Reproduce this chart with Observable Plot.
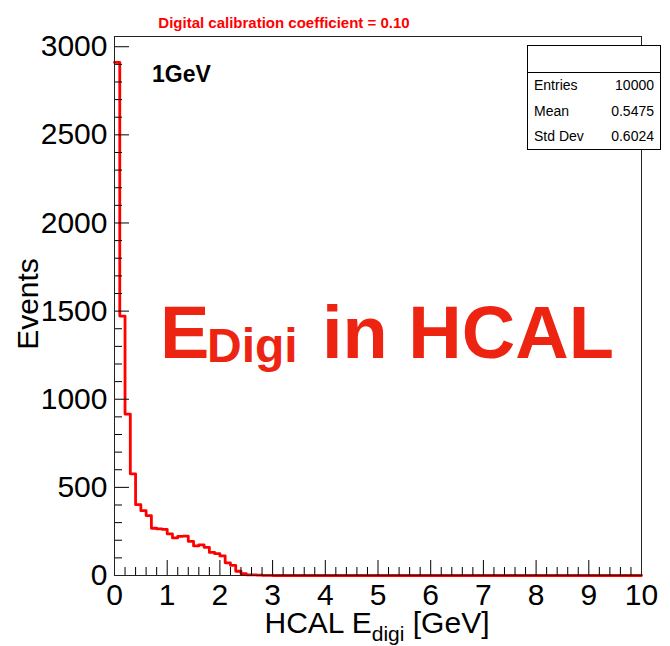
<!DOCTYPE html>
<html><head><meta charset="utf-8">
<script src="https://cdn.jsdelivr.net/npm/d3@7"></script>
<script src="https://cdn.jsdelivr.net/npm/@observablehq/plot@0.6"></script>
<style>body{margin:0;background:#fff}</style>
</head><body><div id="chart"></div>
<script>
// ---- data ----
const xMajorTicks = [0, 1, 2, 3, 4, 5, 6, 7, 8, 9, 10];
const yMajorTicks = [0, 500, 1000, 1500, 2000, 2500, 3000];
const binWidth = 0.1;           // GeV per bin, 100 bins over [0,10]
const counts = [
  2911, 1472, 916, 577, 402, 368, 340, 268, 264, 262,
  236, 213, 222, 223, 194, 168, 174, 160, 131, 124,
  111, 72, 58, 24, 11, 4, 3, 2, 1, 1,
  0, 0, 0, 0, 0, 0, 0, 0, 0, 0,
  0, 0, 0, 0, 0, 0, 0, 0, 0, 0,
  0, 0, 0, 0, 0, 0, 0, 0, 0, 0,
  0, 0, 0, 0, 0, 0, 0, 0, 0, 0,
  0, 0, 0, 0, 0, 0, 0, 0, 0, 0,
  0, 0, 0, 0, 0, 0, 0, 0, 0, 0,
  0, 0, 0, 0, 0, 0, 0, 0, 0, 0
];
const statsNames = ["Entries", "Mean", "Std Dev"];
const statsValues = ["10000", "0.5475", "0.6024"];
const titleText = "Digital calibration coefficient = 0.10";
const energyLabel = "1GeV";
const yMax = 3058;

// ---- derived ----
const pts = counts.map((c, i) => ({x: i * binWidth, y: c}));
pts.push({x: counts.length * binWidth, y: counts[counts.length - 1]});
const xMinor = d3.range(0, 51).map(i => i * 0.2).filter((v, i) => i % 5 !== 0);
const yMinor = d3.range(0, 31).map(i => i * 100).filter(v => v % 500 !== 0);

const W = 670, H = 646, mL = 114, mR = 29, mT = 36, mB = 71;
const font = "'Liberation Sans', Arial, Helvetica, sans-serif";

const plot = Plot.plot({
  width: W, height: H,
  marginLeft: mL, marginRight: mR, marginTop: mT, marginBottom: mB,
  style: {fontFamily: font, background: "#fff", color: "#000", overflow: "visible"},
  x: {domain: [0, 10]},
  y: {domain: [0, yMax]},
  marks: [
    Plot.lineY(pts, {x: "x", y: "y", curve: "step-after", stroke: "#ff0000", strokeWidth: 2.8}),
    Plot.ruleX(xMajorTicks, {x: d => d, y1: 0, y2: 0, insetTop: -15, stroke: "#000", strokeWidth: 1}),
    Plot.ruleX(xMinor, {x: d => d, y1: 0, y2: 0, insetTop: -8, stroke: "#000", strokeWidth: 1}),
    Plot.ruleY(yMajorTicks, {y: d => d, x1: 0, x2: 0, insetRight: -15, stroke: "#000", strokeWidth: 1}),
    Plot.ruleY(yMinor, {y: d => d, x1: 0, x2: 0, insetRight: -8, stroke: "#000", strokeWidth: 1}),
    Plot.frame({stroke: "#222", strokeWidth: 1}),
    Plot.axisX({ticks: xMajorTicks, tickSize: 0, tickPadding: 8, fontSize: 30, label: null, tickFormat: d => String(d)}),
    Plot.axisY({ticks: yMajorTicks, tickSize: 0, tickPadding: 7, fontSize: 30, label: null, tickFormat: d => String(d)})
  ]
});
document.getElementById("chart").appendChild(plot);

const svg = d3.select(plot);
function txt(x, y, s, opts = {}) {
  return svg.append("text").attr("x", x).attr("y", y)
    .attr("text-anchor", opts.anchor || "start")
    .attr("font-family", font)
    .attr("font-weight", opts.bold ? "bold" : "normal")
    .attr("font-size", opts.size || 14)
    .attr("fill", opts.fill || "#000")
    .text(s);
}
// Title
txt(284, 28, titleText, {anchor: "middle", bold: true, size: 15, fill: "#ff0000"});
// 1GeV
txt(152, 82, energyLabel, {bold: true, size: 23});
// Y axis title
svg.append("text").attr("transform", "translate(38,304) rotate(-90)").attr("text-anchor", "middle")
  .attr("font-family", font).attr("font-size", 30).attr("fill", "#000").text("Events");
// X axis title with subscript
const xt = svg.append("text").attr("x", 377).attr("y", 633).attr("text-anchor", "middle")
  .attr("font-family", font).attr("font-size", 30).attr("fill", "#000");
xt.append("tspan").text("HCAL E");
xt.append("tspan").attr("font-size", 21).attr("dy", 8).text("digi");
xt.append("tspan").attr("dy", -8).text(" [GeV]");
// Big overlay text
const red2 = "#ee2412";
txt(160, 358, "E", {bold: true, size: 74, fill: red2});
txt(207, 362, "Digi", {bold: true, size: 48, fill: red2});
txt(322, 358, "in HCAL", {bold: true, size: 74, fill: red2});
// Stats box
const sb = svg.append("g");
sb.append("rect").attr("x", 527.5).attr("y", 45.5).attr("width", 133).attr("height", 104)
  .attr("fill", "#fff").attr("stroke", "#000").attr("stroke-width", 1);
sb.append("line").attr("x1", 527.5).attr("x2", 660.5).attr("y1", 72.5).attr("y2", 72.5)
  .attr("stroke", "#000").attr("stroke-width", 1);
const rowsY = [90, 116, 141];
statsNames.forEach((n, i) => {
  txt(534, rowsY[i], n, {size: 14});
  txt(654, rowsY[i], statsValues[i], {size: 14, anchor: "end"});
});
</script>
</body></html>
